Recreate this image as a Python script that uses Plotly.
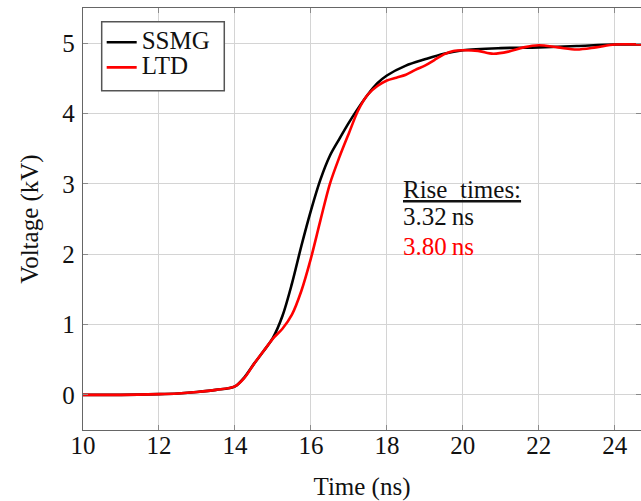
import plotly.graph_objects as go

# SSMG (black)
t_ssmg = [10, 11, 12, 12.5, 13, 13.5, 14, 14.25, 14.5, 14.75, 15.0, 15.25, 15.5, 15.75,
          16.0, 16.25, 16.5, 16.75, 17.0, 17.25, 17.5, 17.75, 18.0, 18.5, 19.0, 19.5,
          20.0, 21.0, 22.0, 23.0, 24.0, 24.7]
v_ssmg = [0, 0, 0.01, 0.02, 0.04, 0.07, 0.12, 0.25, 0.44, 0.62, 0.81, 1.12, 1.58, 2.12,
          2.62, 3.06, 3.40, 3.64, 3.87, 4.08, 4.27, 4.43, 4.54, 4.68, 4.77, 4.85,
          4.90, 4.93, 4.94, 4.96, 4.98, 4.98]

# LTD (red)
t_ltd = [10, 11, 12, 12.5, 13, 13.5, 14, 14.25, 14.5, 14.75, 15.0, 15.25, 15.5, 15.75,
         16.0, 16.25, 16.5, 16.75, 17.0, 17.25, 17.5, 17.75, 18.0, 18.25, 18.5, 18.75,
         19.0, 19.25, 19.5, 19.75, 20.0, 20.4, 20.8, 21.2, 21.6, 22.0, 22.5, 23.0,
         23.5, 24.0, 24.7]
v_ltd = [0, 0, 0.01, 0.02, 0.04, 0.07, 0.12, 0.24, 0.44, 0.62, 0.80, 0.94, 1.14, 1.48,
         1.94, 2.48, 3.00, 3.38, 3.72, 4.05, 4.27, 4.39, 4.47, 4.51, 4.55, 4.62,
         4.68, 4.76, 4.84, 4.89, 4.90, 4.89, 4.85, 4.88, 4.94, 4.97, 4.94, 4.91,
         4.94, 4.98, 4.98]

x_ticks = [10, 12, 14, 16, 18, 20, 22, 24]
y_ticks = [0, 1, 2, 3, 4, 5]
rise_title = "Rise\u00a0 times:"
rise_ssmg = "3.32\u2009ns"
rise_ltd = "3.80\u2009ns"

FONT = "Liberation Serif"
FS = 25

fig = go.Figure()
fig.add_trace(go.Scatter(x=t_ssmg, y=v_ssmg, mode="lines",
                         name="<span style='font-size:25px'>SSMG</span>",
                         line=dict(color="#000000", width=2.6, shape="spline", smoothing=0.9)))
fig.add_trace(go.Scatter(x=t_ltd, y=v_ltd, mode="lines",
                         name="<span style='font-size:25px'>LTD</span>",
                         line=dict(color="#ff0000", width=2.6, shape="spline", smoothing=0.9)))

axis_common = dict(
    showgrid=True, gridcolor="#d4d4d4", gridwidth=1,
    showline=True, linecolor="#666666", linewidth=1.3, mirror="ticks",
    ticks="inside", ticklen=5, tickcolor="#8a8a8a", tickwidth=1,
    zeroline=False, automargin=False,
    tickfont=dict(family=FONT, size=FS, color="#111111"),
)

fig.update_xaxes(range=[10, 24.69], tickvals=x_ticks, ticklabelstandoff=-7,
                 title=dict(text="Time (ns)", font=dict(family=FONT, size=FS, color="#111111"),
                            standoff=20),
                 **axis_common)
fig.update_yaxes(range=[-0.5, 5.5], tickvals=y_ticks, ticklabelstandoff=2,
                 title=dict(text="Voltage (kV)", font=dict(family=FONT, size=FS, color="#111111"),
                            standoff=16),
                 **axis_common)

fig.add_annotation(x=18.38, y=2.92, xref="x", yref="y", xanchor="left", yanchor="middle",
                   text=rise_title, showarrow=False,
                   font=dict(family=FONT, size=FS, color="#111111", lineposition="under"))
fig.add_annotation(x=18.38, y=2.53, xref="x", yref="y", xanchor="left", yanchor="middle",
                   text=rise_ssmg, showarrow=False,
                   font=dict(family=FONT, size=FS, color="#111111"))
fig.add_annotation(x=18.38, y=2.11, xref="x", yref="y", xanchor="left", yanchor="middle",
                   text=rise_ltd, showarrow=False,
                   font=dict(family=FONT, size=FS, color="#ff0000"))

# legend frame (decoration)
fig.add_shape(type="rect", xref="paper", yref="paper",
              x0=0.0335, x1=0.2532, y0=0.804, y1=0.9675,
              line=dict(color="#555555", width=1.5), fillcolor="white", layer="above")

fig.update_layout(
    width=641, height=501,
    margin=dict(l=83, r=0, t=8, b=71),
    paper_bgcolor="white", plot_bgcolor="white",
    legend=dict(x=0.0335, y=0.9604, xanchor="left", yanchor="top",
                bgcolor="rgba(0,0,0,0)", borderwidth=0,
                font=dict(family=FONT, size=17, color="#111111"),
                itemwidth=30, tracegroupgap=0),
    showlegend=True,
)

fig.write_html("out.html", config={"displayModeBar": False},
               post_script="document.body.style.margin='0';")
